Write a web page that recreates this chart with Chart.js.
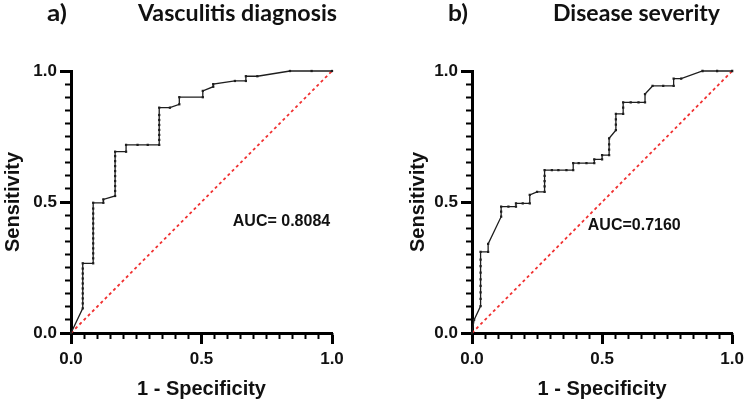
<!DOCTYPE html>
<html lang="en">
<head>
<meta charset="UTF-8" />
<title>ROC curves</title>
<script src="https://cdn.jsdelivr.net/npm/chart.js@4"></script>
<style>
	html, body { margin: 0; padding: 0; background: #fff; }
	body { width: 749px; height: 404px; position: relative; overflow: hidden; }
	.panel { position: absolute; top: 0; height: 404px; }
</style>
</head>
<body>
<div class="panel" style="left:0;width:352px"><canvas id="rocA"></canvas></div>
<div class="panel" style="left:400px;width:349px"><canvas id="rocB"></canvas></div>
<script>
// a) Vasculitis diagnosis
const aFpr = [0,
	0.045, 0.045, 0.045, 0.045, 0.045, 0.045, 0.045, 0.045, 0.045, 0.045,
	0.085, 0.085, 0.085, 0.085, 0.085, 0.085, 0.085, 0.085, 0.085, 0.085, 0.085, 0.085, 0.085,
	0.124, 0.124,
	0.169, 0.169, 0.169, 0.169, 0.169, 0.169, 0.169, 0.169, 0.169, 0.169,
	0.211, 0.211, 0.255, 0.294,
	0.338, 0.338, 0.338, 0.338, 0.338, 0.338, 0.338, 0.338,
	0.379, 0.415, 0.415, 0.505, 0.505, 0.545, 0.545, 0.628, 0.670, 0.670, 0.714, 0.839, 0.922, 1];
const aTpr = [0,
	0.094, 0.113, 0.132, 0.151, 0.170, 0.189, 0.208, 0.227, 0.246, 0.266,
	0.266, 0.285, 0.304, 0.323, 0.342, 0.361, 0.380, 0.399, 0.418, 0.437, 0.456, 0.475, 0.497,
	0.497, 0.510,
	0.523, 0.542, 0.561, 0.580, 0.599, 0.618, 0.637, 0.656, 0.675, 0.692,
	0.692, 0.718, 0.718, 0.718,
	0.718, 0.737, 0.756, 0.775, 0.794, 0.813, 0.832, 0.860,
	0.860, 0.873, 0.900, 0.900, 0.924, 0.940, 0.950, 0.962, 0.962, 0.980, 0.980, 1, 1, 1];

// b) Disease severity
const bFpr = [0, 0.008,
	0.033, 0.033, 0.033, 0.033, 0.033, 0.033, 0.033, 0.033, 0.033,
	0.062, 0.062, 0.112, 0.112, 0.112,
	0.140, 0.169, 0.169, 0.195, 0.222, 0.222, 0.250,
	0.279, 0.279, 0.279, 0.279, 0.279,
	0.307, 0.332, 0.363, 0.389, 0.389, 0.410, 0.440, 0.470, 0.470, 0.500, 0.500,
	0.527, 0.527, 0.527, 0.527,
	0.553, 0.553, 0.553, 0.553,
	0.581, 0.581, 0.581, 0.610, 0.640, 0.665, 0.665, 0.694, 0.735, 0.775, 0.775, 0.804, 0.886, 0.942, 1];
const bTpr = [0, 0.050,
	0.103, 0.130, 0.155, 0.180, 0.205, 0.230, 0.255, 0.280, 0.310,
	0.310, 0.340, 0.444, 0.463, 0.482,
	0.482, 0.482, 0.495, 0.495, 0.495, 0.527, 0.539,
	0.539, 0.560, 0.580, 0.600, 0.622,
	0.622, 0.622, 0.622, 0.622, 0.648, 0.648, 0.648, 0.648, 0.663, 0.663, 0.679,
	0.679, 0.700, 0.720, 0.743,
	0.774, 0.795, 0.815, 0.836,
	0.836, 0.860, 0.880, 0.880, 0.880, 0.880, 0.912, 0.943, 0.943, 0.943, 0.971, 0.971, 1, 1, 1];

// reference (chance) line
const chanceFpr = [0, 1];
const chanceTpr = [0, 1];

const majorTicks = [0, 0.5, 1];
const minorStep = 0.05;
const aucLabels = ['AUC= 0.8084', 'AUC=0.7160'];

const AXIS_FONT = "'Liberation Sans', Arial, sans-serif";
const TITLE_FONT = "Lato, 'Noto Sans', sans-serif";

function toPoints(xs, ys) {
	return xs.map((x, i) => ({ x: x, y: ys[i] }));
}

// panel letter, panel title and AUC note
const textPlugin = {
	id: 'panelText',
	afterDraw(chart, args, opts) {
		const ctx = chart.ctx;
		ctx.save();
		ctx.fillStyle = '#111';
		ctx.textBaseline = 'middle';
		for (const t of opts.titles) {
			ctx.font = `bold ${t.size}px ${TITLE_FONT}`;
			const w = ctx.measureText(t.text).width;
			ctx.save();
			ctx.translate(t.x, t.y);
			ctx.scale(t.width / w, 1);
			ctx.fillText(t.text, 0, 0);
			ctx.restore();
		}
		const xs = chart.scales.x;
		const ys = chart.scales.y;
		ctx.font = `bold 16px ${AXIS_FONT}`;
		ctx.textAlign = 'left';
		ctx.fillText(opts.auc, xs.getPixelForValue(opts.aucAt[0]), ys.getPixelForValue(opts.aucAt[1]));
		ctx.restore();
	}
};

function rocChart(id, fpr, tpr, cfg) {
	const tickFont = { family: AXIS_FONT, weight: 'bold', size: 17 };
	const titleFont = { family: AXIS_FONT, weight: 'bold', size: 20 };
	return new Chart(document.getElementById(id), {
		type: 'scatter',
		data: {
			datasets: [
				{
					data: toPoints(fpr, tpr),
					showLine: true,
					borderColor: '#1e1e1e',
					borderWidth: 1.3,
					pointStyle: 'rect',
					pointRadius: 1.6,
					pointBackgroundColor: '#1e1e1e',
					pointBorderWidth: 0,
					clip: 4,
				},
				{
					data: toPoints(chanceFpr, chanceTpr),
					showLine: true,
					borderColor: '#f03030',
					borderWidth: 1.8,
					borderDash: [3, 3],
					pointRadius: 0,
					clip: 4,
				},
			],
		},
		options: {
			responsive: true,
			maintainAspectRatio: false,
			animation: false,
			layout: { padding: { top: 71, right: cfg.padRight, left: 0, bottom: 0 } },
			plugins: {
				legend: { display: false },
				tooltip: { enabled: false },
				panelText: { titles: cfg.titles, auc: cfg.auc, aucAt: cfg.aucAt },
			},
			scales: {
				x: {
					type: 'linear', position: 'bottom', min: 0, max: 1, weight: 1,
					afterBuildTicks: s => { s.ticks = majorTicks.map(v => ({ value: v })); },
					afterFit: s => { s.height = 71; },
					grid: { drawOnChartArea: false, tickLength: 11, tickWidth: 3, tickColor: '#000' },
					border: { color: '#000', width: 3 },
					ticks: { padding: 5, color: '#111', font: tickFont, maxRotation: 0, callback: v => v.toFixed(1) },
					title: { display: true, text: '1 - Specificity', color: '#111', font: titleFont, padding: { top: 0, bottom: 3 } },
				},
				xMinor: {
					type: 'linear', position: 'bottom', min: 0, max: 1, weight: 0,
					afterFit: s => { s.height = 0; },
					grid: { drawOnChartArea: false, tickLength: 6, tickWidth: 2, tickColor: '#000' },
					border: { display: false },
					ticks: { stepSize: minorStep, display: false },
				},
				y: {
					type: 'linear', position: 'left', min: 0, max: 1, weight: 1,
					afterBuildTicks: s => { s.ticks = majorTicks.map(v => ({ value: v })); },
					afterFit: s => { s.width = cfg.yWidth; },
					grid: { drawOnChartArea: false, tickLength: 11, tickWidth: 3, tickColor: '#000' },
					border: { color: '#000', width: 3 },
					ticks: { padding: 3, color: '#111', font: tickFont, callback: v => v.toFixed(1) },
					title: { display: true, text: 'Sensitivity', color: '#111', font: titleFont, padding: { top: cfg.yTitlePad, bottom: 0 } },
				},
				yMinor: {
					type: 'linear', position: 'left', min: 0, max: 1, weight: 0,
					afterFit: s => { s.width = 0; },
					grid: { drawOnChartArea: false, tickLength: 6, tickWidth: 2, tickColor: '#000' },
					border: { display: false },
					ticks: { stepSize: minorStep, display: false },
				},
			},
		},
		plugins: [textPlugin],
	});
}

rocChart('rocA', aFpr, aTpr, {
	padRight: 20, yWidth: 71, yTitlePad: 1,
	titles: [
		{ text: 'a)', x: 47, y: 14, size: 22, width: 20 },
		{ text: 'Vasculitis diagnosis', x: 138, y: 14, size: 22, width: 199 },
	],
	auc: aucLabels[0], aucAt: [0.62, 0.424],
});

rocChart('rocB', bFpr, bTpr, {
	padRight: 12, yWidth: 72, yTitlePad: 6,
	titles: [
		{ text: 'b)', x: 48, y: 14, size: 22, width: 20 },
		{ text: 'Disease severity', x: 153, y: 14, size: 22, width: 167 },
	],
	auc: aucLabels[1], aucAt: [0.445, 0.41],
});
</script>
</body>
</html>
